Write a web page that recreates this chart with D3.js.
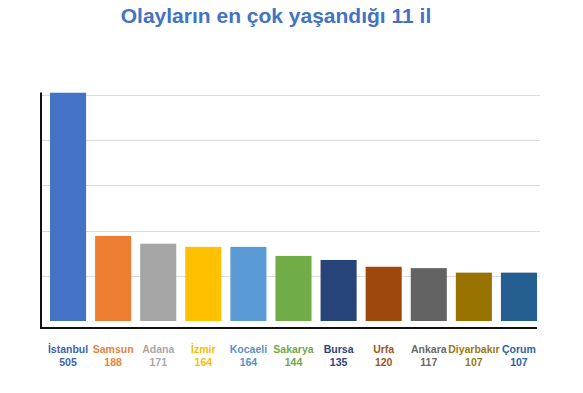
<!DOCTYPE html>
<html><head><meta charset="utf-8">
<script src="https://cdn.jsdelivr.net/npm/d3@7"></script>
<style>body{margin:0;background:#fff}svg{display:block}</style>
</head><body>
<script>
const cities = ["İstanbul","Samsun","Adana","İzmir","Kocaeli","Sakarya","Bursa","Urfa","Ankara","Diyarbakır","Çorum"];
const values = [505,188,171,164,164,144,135,120,117,107,107];
const barColors = ["#4472C4","#ED7D31","#A5A5A5","#FFC000","#5B9BD5","#70AD47","#264478","#9E480E","#636363","#997300","#255E91"];
const labelColors = ["#3E64AE","#E8833E","#A8A8A8","#F5C000","#5B8FC9","#72A84A","#2A4577","#A0551D","#6A6A6A","#9A7A10","#2D64A0"];
const gridTicks = [100,200,300,400,500];
const title = "Olayların en çok yaşandığı 11 il";

const W=583,H=393;
const svg=d3.select("body").append("svg").attr("width",W).attr("height",H);
const y=d3.scaleLinear().domain([0,500]).range([321,95]);
const x=d3.scaleBand().domain(cities).range([45.5,541.5]).paddingInner(0.2).paddingOuter(0.1);

svg.append("text").attr("x",276).attr("y",23).attr("text-anchor","middle")
  .attr("font-family","Liberation Sans, Arial, sans-serif").attr("font-weight","bold")
  .attr("font-size",21).attr("fill","#4472C4").text(title);

svg.append("g").selectAll("line").data(gridTicks).join("line")
  .attr("x1",42).attr("x2",540).attr("y1",d=>Math.round(y(d))+0.5).attr("y2",d=>Math.round(y(d))+0.5)
  .attr("stroke","#dcdcdc").attr("stroke-width",1);

svg.append("g").selectAll("rect").data(cities).join("rect")
  .attr("x",d=>x(d)).attr("width",x.bandwidth())
  .attr("y",(d,i)=>y(values[i])).attr("height",(d,i)=>y(0)-y(values[i]))
  .attr("fill",(d,i)=>barColors[i]);

// axes
svg.append("line").attr("x1",41).attr("x2",41).attr("y1",92.5).attr("y2",329).attr("stroke","#111").attr("stroke-width",2);
svg.append("line").attr("x1",40).attr("x2",537).attr("y1",328).attr("y2",328).attr("stroke","#111").attr("stroke-width",2);

const lab=svg.append("g").attr("font-family","Liberation Sans, Arial, sans-serif").attr("font-weight","bold").attr("font-size",10.5).attr("text-anchor","middle");
lab.selectAll("text.c").data(cities).join("text").attr("class","c")
  .attr("x",d=>x(d)+x.bandwidth()/2).attr("y",353).attr("fill",(d,i)=>labelColors[i]).text(d=>d);
lab.selectAll("text.v").data(values).join("text").attr("class","v")
  .attr("x",(d,i)=>x(cities[i])+x.bandwidth()/2).attr("y",366).attr("fill",(d,i)=>labelColors[i]).text(d=>d);
</script>
</body></html>
